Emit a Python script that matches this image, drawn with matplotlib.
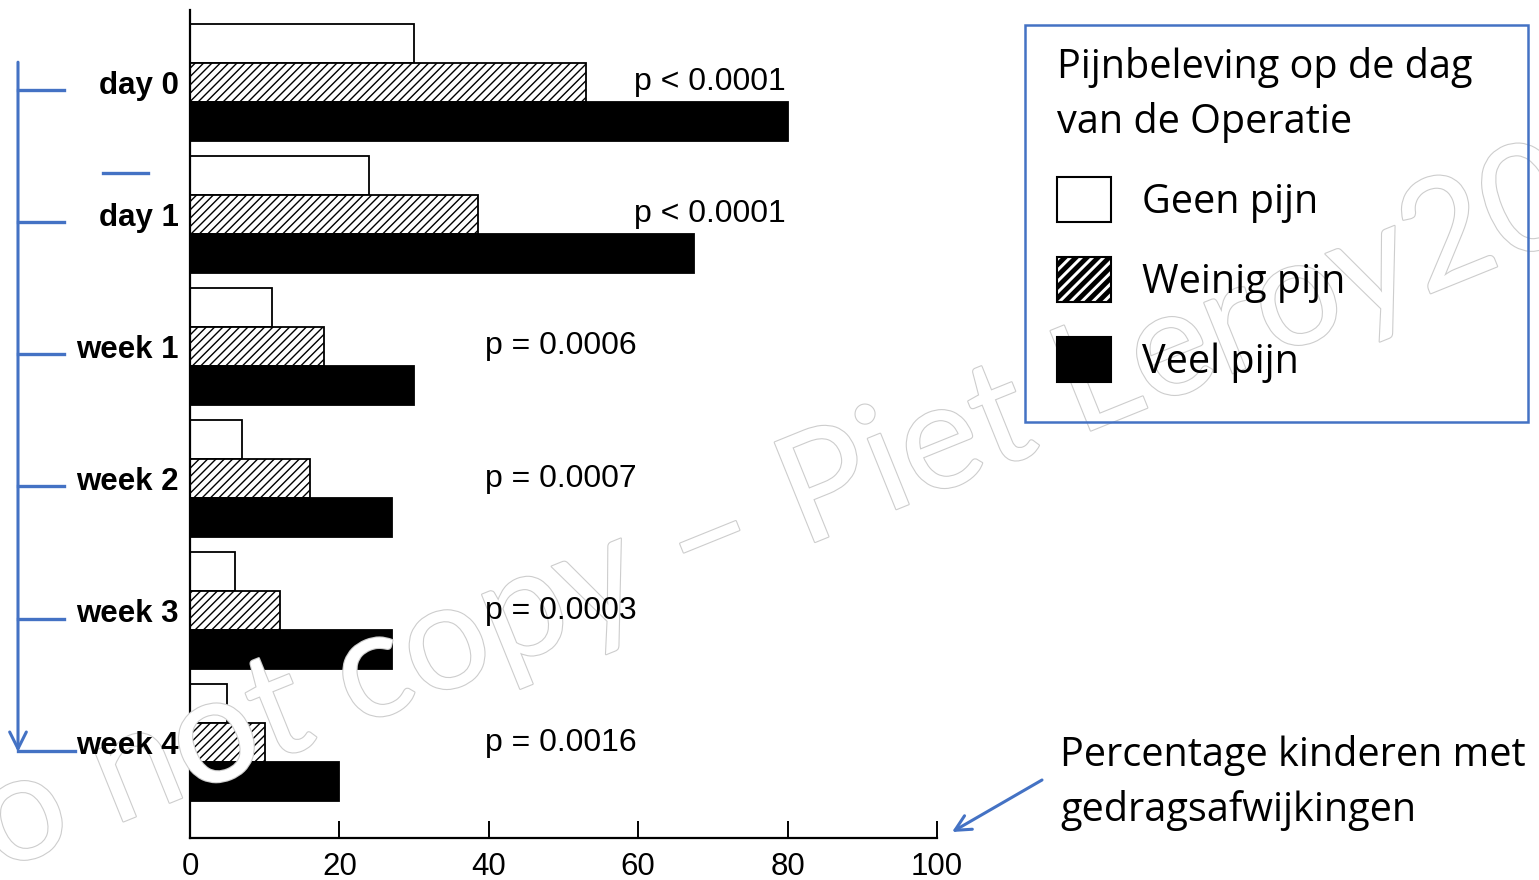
import matplotlib.pyplot as plt
from matplotlib.patches import Patch, Rectangle
from matplotlib import transforms
import matplotlib.patheffects as pe

# data (percentage of children with behaviour problems)
categories = ["day 0", "day 1", "week 1", "week 2", "week 3", "week 4"]
geen_pijn = [30, 24, 11, 7, 6, 5]
weinig_pijn = [53, 38.5, 18, 16, 12, 10]
veel_pijn = [80, 67.5, 30, 27, 27, 20]
p_values = ["p < 0.0001", "p < 0.0001", "p = 0.0006", "p = 0.0007", "p = 0.0003", "p = 0.0016"]
p_xpos = [59.5, 59.5, 39.5, 39.5, 39.5, 39.5]
xticks = [0, 20, 40, 60, 80, 100]

legend_title = "Pijnbeleving op de dag\nvan de Operatie"
legend_labels = ["Geen pijn", "Weinig pijn", "Veel pijn"]
note = "Percentage kinderen met\ngedragsafwijkingen"
watermark = "Do not copy – Piet Leroy2020"

BLUE = "#4472C4"
W, H = 1539, 880

fig = plt.figure(figsize=(W / 100, H / 100), dpi=100)
ax = fig.add_axes([190 / W, 1 - 838 / H, (937 - 190) / W, (838 - 10) / H])

pos = list(range(len(categories)))
h = 0.295
plt.rcParams["hatch.linewidth"] = 1.0

ax.barh([p - h for p in pos], geen_pijn, height=h, color="white", edgecolor="black", linewidth=1.3)
ax.barh(pos, weinig_pijn, height=h, color="white", edgecolor="black", linewidth=1.3, hatch="////")
ax.barh([p + h for p in pos], veel_pijn, height=h, color="black", edgecolor="black", linewidth=1.3)

for p, txt, xp in zip(pos, p_values, p_xpos):
    ax.text(xp, p, txt, fontsize=23, family="Liberation Sans", va="center", ha="left", zorder=4)

ax.set_xlim(0, 100)
ax.set_ylim(5.72, -0.545)
ax.set_xticks(xticks)
ax.set_xticklabels([str(t) for t in xticks], fontsize=22.5, family="Liberation Sans")
ax.set_yticks(pos)
ax.set_yticklabels(categories, fontsize=22.5, family="Liberation Sans", fontweight="bold")
ax.tick_params(axis="x", direction="in", length=12, width=1.4, pad=10)
ax.tick_params(axis="y", length=0, pad=8)
ax.yaxis.set_zorder(4)
ax.spines["top"].set_visible(False)
ax.spines["right"].set_visible(False)
ax.spines["left"].set_linewidth(1.6)
ax.spines["bottom"].set_linewidth(1.6)

# blue bracket on the left, tied to the category rows
bt = transforms.blended_transform_factory(fig.transFigure, ax.transData)
x0 = 18 / W
ax.annotate("", xy=(x0, 5.07), xytext=(x0, -0.15), xycoords=bt, textcoords=bt,
            arrowprops=dict(arrowstyle="->", color=BLUE, lw=2.2, mutation_scale=30,
                            shrinkA=0, shrinkB=0), annotation_clip=False)
for p in pos:
    x1 = 75 / W if p == pos[-1] else 64 / W
    ax.plot([x0, x1], [p + 0.06, p + 0.06], color=BLUE, lw=2.4, transform=bt, clip_on=False)
ax.plot([103 / W, 148 / W], [0.69, 0.69], color=BLUE, lw=2.4, transform=bt, clip_on=False)

# outlined watermark: above the bars, below the texts
wm = ax.text(820 / W, 1 - 540 / H, watermark, fontsize=108, family=["Lato", "Open Sans"],
             color="white", rotation=22, rotation_mode="anchor", ha="center",
             va="baseline", transform=fig.transFigure, clip_on=False, zorder=2.6)
wm.set_path_effects([pe.Stroke(linewidth=1.6, foreground="#cdcdcd"), pe.Normal()])

# legend box
fig.add_artist(Rectangle((1025 / W, 1 - 422 / H), 503 / W, 397 / H, transform=fig.transFigure,
                         fill=False, edgecolor=BLUE, lw=1.8))
handles = [
    Patch(facecolor="white", edgecolor="black", lw=1.5),
    Patch(facecolor="white", edgecolor="black", lw=1.5, hatch="///"),
    Patch(facecolor="black", edgecolor="black", lw=1.5),
]
leg = fig.legend(handles, legend_labels, title=legend_title, loc="upper left",
                 bbox_to_anchor=(1025 / W, 1 - 15 / H), frameon=False,
                 prop={"family": "Open Sans", "size": 28.5},
                 title_fontproperties={"family": "Open Sans", "size": 28.5},
                 alignment="left", handlelength=1.36, handleheight=1.36,
                 labelspacing=0.87, handletextpad=0.8, borderpad=0.3)
leg.get_title().set_linespacing(1.45)
hh = leg.legend_handles[1]
if hasattr(hh, "set_hatch_linewidth"):
    hh.set_hatch_linewidth(3.5)

# note and arrow at the bottom right
fig.text(1060 / W, 1 - 783 / H, note, fontsize=28.5, family="Open Sans", va="center",
         ha="left", linespacing=1.48)
fig.add_artist(plt.Annotation("", xy=(952 / W, 1 - 832 / H), xytext=(1042 / W, 1 - 780 / H),
                              xycoords=fig.transFigure, textcoords=fig.transFigure,
                              arrowprops=dict(arrowstyle="->", color=BLUE, lw=2.2,
                                              mutation_scale=28, shrinkA=0, shrinkB=0)))

fig.savefig("out.png", dpi=100)
